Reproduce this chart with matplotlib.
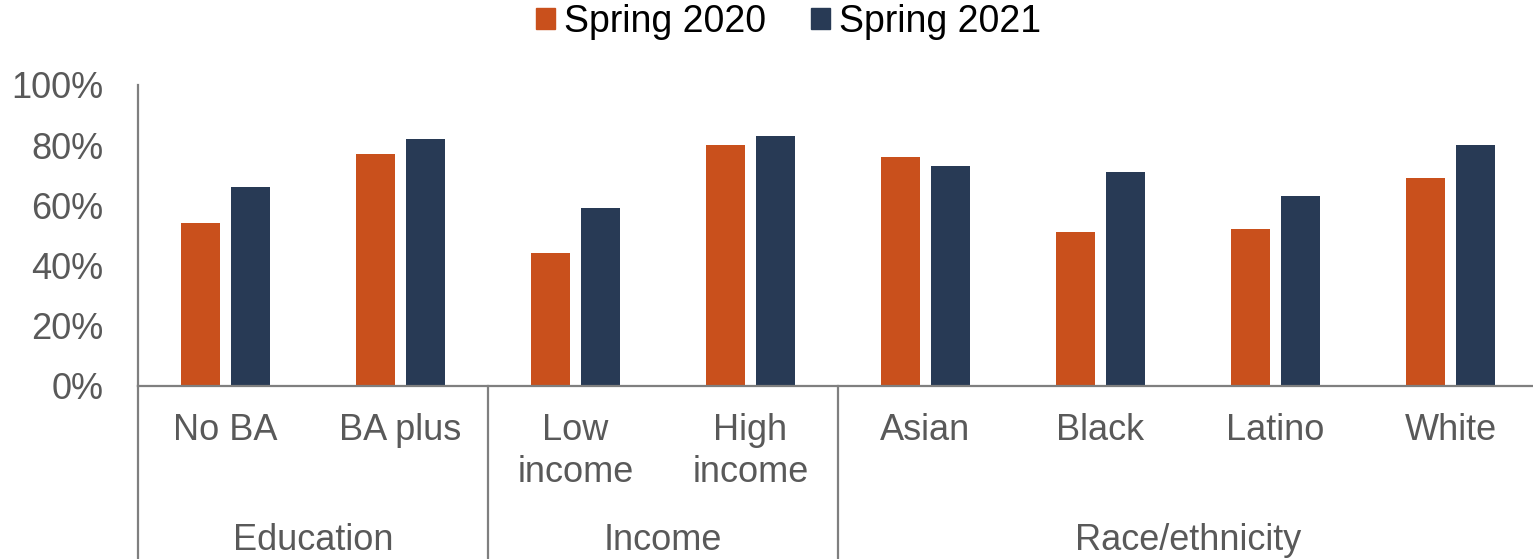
import matplotlib
matplotlib.use("Agg")
import matplotlib.pyplot as plt
import matplotlib.transforms as mtransforms
from matplotlib.lines import Line2D
from matplotlib.patches import Patch
import numpy as np

plt.rcParams['font.family'] = ['Liberation Sans', 'DejaVu Sans']

categories = ["No BA", "BA plus", "Low\nincome", "High\nincome",
              "Asian", "Black", "Latino", "White"]
groups = ["Education", "Income", "Race/ethnicity"]
group_sizes = [2, 2, 4]
spring_2020 = [54, 77, 44, 80, 76, 51, 52, 69]
spring_2021 = [66, 82, 59, 83, 73, 71, 63, 80]
series_labels = ["Spring 2020", "Spring 2021"]
yticks = [0, 20, 40, 60, 80, 100]

ORANGE = "#C9501C"
NAVY = "#283A55"
GRAY_TEXT = "#595959"
GRAY_LINE = "#7F7F7F"

W, H = 1533, 559
fig = plt.figure(figsize=(W / 100, H / 100), dpi=100)
ax = fig.add_axes([138 / W, (H - 385.5) / H, 1400 / W, 300.5 / H])

x = np.arange(len(categories))
bw = 0.226
off = 0.144
ax.bar(x - off, spring_2020, bw, color=ORANGE, label=series_labels[0])
ax.bar(x + off, spring_2021, bw, color=NAVY, label=series_labels[1])

ax.set_xlim(-0.5, len(categories) - 0.5)
ax.set_ylim(0, 100)
ax.set_yticks(yticks)
ax.set_yticklabels([f"{v}%" for v in yticks])
ax.set_xticks([])
ax.tick_params(axis='y', length=0, pad=25, labelsize=26, labelcolor=GRAY_TEXT)

for s in ["top", "right"]:
    ax.spines[s].set_visible(False)
for s in ["left", "bottom"]:
    ax.spines[s].set_color(GRAY_LINE)
    ax.spines[s].set_linewidth(1.6)

# Separators between category groups, running down to the bottom edge
sep_tr = mtransforms.blended_transform_factory(ax.transData, fig.transFigure)
bounds = np.concatenate([[0], np.cumsum(group_sizes)]) - 0.5
y0 = (H - 385.5) / H
for b in bounds:
    ax.add_line(Line2D([b, b], [0, y0], transform=sep_tr, color=GRAY_LINE,
                       lw=1.6, clip_on=False))

# Category labels (one text per line)
line_y = [431, 473]
for xi, lab in zip(x, categories):
    for k, part in enumerate(lab.split("\n")):
        ax.text(xi, 1 - line_y[k] / H, part, transform=sep_tr, ha='center',
                va='center', fontsize=26, color=GRAY_TEXT)

# Group labels
for g, lo, hi in zip(groups, bounds[:-1], bounds[1:]):
    ax.text((lo + hi) / 2, 1 - 541 / H, g, transform=sep_tr, ha='center',
            va='center', fontsize=26, color=GRAY_TEXT)

handles = [Patch(color=ORANGE, label=series_labels[0]),
           Patch(color=NAVY, label=series_labels[1])]
fig.legend(handles=handles, loc='center', bbox_to_anchor=(788.5 / W, 1 - 22 / H),
           ncol=2, frameon=False, fontsize=27, handlelength=0.5,
           handleheight=0.5, handletextpad=0.25, columnspacing=1.2,
           borderaxespad=0, borderpad=0, labelcolor='black')

fig.savefig("out.png", dpi=100)
